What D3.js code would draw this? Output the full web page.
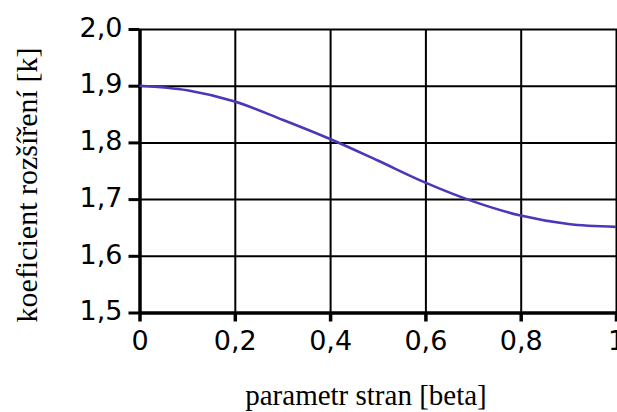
<!DOCTYPE html>
<html>
<head>
<meta charset="utf-8">
<script src="https://cdn.jsdelivr.net/npm/d3@7"></script>
<style>
  body { margin: 0; background: #fff; }
  svg { display: block; }
</style>
</head>
<body>
<script>
const svgWidth = 617;
const svgHeight = 412;

// values
const beta = [0, 0.1, 0.2, 0.3, 0.4, 0.5, 0.6, 0.7, 0.8, 0.9, 1.0];
const koef = [1.900, 1.892, 1.872, 1.840, 1.806, 1.768, 1.729, 1.696, 1.671, 1.656, 1.651];
const xTicks = [0, 0.2, 0.4, 0.6, 0.8, 1];
const yTicks = [1.5, 1.6, 1.7, 1.8, 1.9, 2.0];

const plotLeft = 139.5, plotRight = 616, plotTop = 29, plotBottom = 312.5;

const svg = d3.select('body')
              .append('svg')
              .attr('width', svgWidth)
              .attr('height', svgHeight);

const x = d3.scaleLinear().domain([0, 1]).range([plotLeft, plotRight]);
const y = d3.scaleLinear().domain([1.5, 2.0]).range([plotBottom, plotTop]);

const fmtX = d => d === 0 ? '0' : d === 1 ? '1' : d3.format('.1f')(d).replace('.', ',');
const fmtY = d => d3.format('.1f')(d).replace('.', ',');

// grid
svg.append('g')
   .attr('transform', `translate(0,${plotBottom})`)
   .call(d3.axisBottom(x).tickValues(xTicks).tickSize(-(plotBottom - plotTop)).tickFormat(''))
   .call(g => g.select('.domain').remove())
   .call(g => g.selectAll('line').attr('stroke', '#000').attr('stroke-width', 2));

svg.append('g')
   .attr('transform', `translate(${plotLeft},0)`)
   .call(d3.axisLeft(y).tickValues(yTicks).tickSize(-(plotRight - plotLeft + 2)).tickFormat(''))
   .call(g => g.select('.domain').remove())
   .call(g => g.selectAll('line').attr('stroke', '#000').attr('stroke-width', 2));

// axes
svg.append('g')
   .attr('transform', `translate(0,${plotBottom})`)
   .call(d3.axisBottom(x).tickValues(xTicks).tickSize(9).tickSizeOuter(0).tickPadding(9).tickFormat(fmtX))
   .call(g => g.select('.domain').attr('stroke-width', 3.5))
   .call(g => g.selectAll('line').attr('stroke-width', 3.5))
   .call(g => g.selectAll('text')
               .style('font-family', '"DejaVu Sans", sans-serif')
               .style('font-size', '27px')
               .attr('fill', '#000'));

svg.append('g')
   .attr('transform', `translate(${plotLeft},0)`)
   .call(d3.axisLeft(y).tickValues(yTicks).tickSize(11).tickSizeOuter(0).tickPadding(6).tickFormat(fmtY))
   .call(g => g.select('.domain').attr('stroke-width', 3.5))
   .call(g => g.selectAll('line').attr('stroke-width', 3))
   .call(g => g.selectAll('text')
               .style('font-family', '"DejaVu Sans", sans-serif')
               .style('font-size', '27px')
               .attr('dy', '0.27em')
               .attr('fill', '#000'));

// curve
const line = d3.line()
               .x((d, i) => x(beta[i]))
               .y(d => y(d))
               .curve(d3.curveMonotoneX);

svg.append('path')
   .datum(koef)
   .attr('d', line)
   .attr('fill', 'none')
   .attr('stroke', '#4b38b8')
   .attr('stroke-width', 2.6);

// labels
svg.append('text')
   .attr('x', 366)
   .attr('y', 405)
   .attr('text-anchor', 'middle')
   .style('font-family', '"Liberation Serif", "Times New Roman", serif')
   .style('font-size', '29px')
   .text('parametr stran [beta]');

svg.append('text')
   .attr('transform', 'translate(37,185) rotate(-90)')
   .attr('text-anchor', 'middle')
   .style('font-family', '"Liberation Serif", "Times New Roman", serif')
   .style('font-size', '30px')
   .text('koeficient rozšíření [k]');
</script>
</body>
</html>
